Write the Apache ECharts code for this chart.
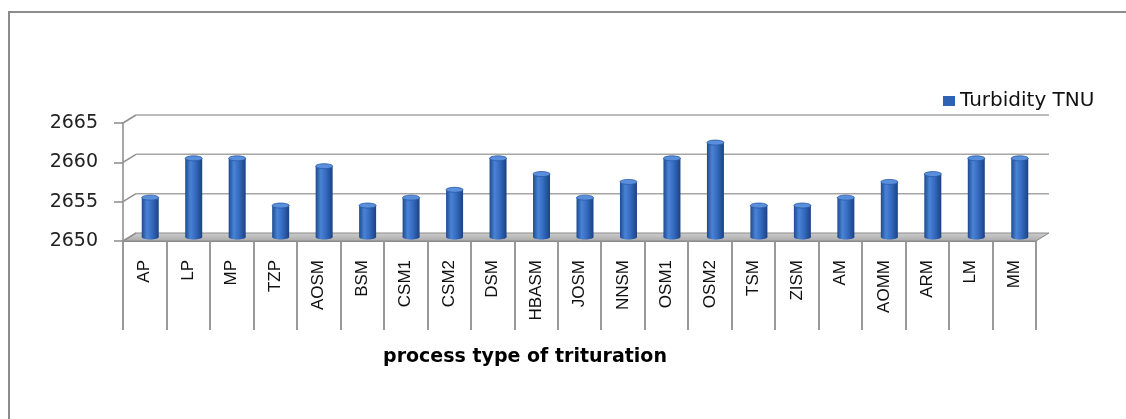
<!DOCTYPE html>
<html>
<head>
<meta charset="utf-8">
<script src="https://cdn.jsdelivr.net/npm/echarts@6/dist/echarts.min.js"></script>
<style>
  html, body { margin: 0; padding: 0; background: #fff; }
  #chart { width: 1126px; height: 419px; }
</style>
</head>
<body>
<div id="chart"></div>
<script>
// ---- data ----
const categories = ['AP','LP','MP','TZP','AOSM','BSM','CSM1','CSM2','DSM','HBASM','JOSM','NNSM','OSM1','OSM2','TSM','ZISM','AM','AOMM','ARM','LM','MM'];
const turbidity = [2655,2660,2660,2654,2659,2654,2655,2656,2660,2658,2655,2657,2660,2662,2654,2654,2655,2657,2658,2660,2660];
const yTicks = [2650, 2655, 2660, 2665];
const seriesName = 'Turbidity TNU';
const xTitle = 'process type of trituration';

// ---- style constants ----
const DX = 13, DY = -8;       // 3D depth offset of back wall
const BAR_W = 17;
const yMin = yTicks[0], yMax = yTicks[yTicks.length - 1];

const chart = echarts.init(document.getElementById('chart'), null, { renderer: 'canvas' });

function frameRender(params, api) {
  const cs = params.coordSys;
  const x0 = cs.x, x1 = cs.x + cs.width;
  const children = [];
  const yb = api.coord([0, yMin])[1];
  children.push({
    type: 'polygon',
    shape: { points: [[x0, yb], [x1, yb], [x1 + DX, yb + DY], [x0 + DX, yb + DY]] },
    style: {
      fill: new echarts.graphic.LinearGradient(0, 0, 0, 1, [
        { offset: 0, color: '#cfcfcf' }, { offset: 1, color: '#a9a9a9' }
      ]),
      stroke: '#8a8a8a', lineWidth: 1
    }
  });
  yTicks.forEach(function (t) {
    const y = api.coord([0, t])[1];
    children.push({
      type: 'line',
      shape: { x1: x0, y1: y, x2: x0 + DX, y2: y + DY },
      style: { stroke: '#8f8f8f', lineWidth: 1.5 }
    });
    if (t > yMin) {
      children.push({
        type: 'line',
        shape: { x1: x0 + DX, y1: y + DY, x2: x1 + DX, y2: y + DY },
        style: { stroke: '#a6a6a6', lineWidth: 1.5 }
      });
    }
  });
  return { type: 'group', children: children };
}

function barRender(params, api) {
  const idx = api.value(0);
  const v = api.value(1);
  const top = api.coord([idx, v]);
  const base = api.coord([idx, yMin]);
  const cx = top[0] + DX / 2 - 1;
  const ty = top[1] + DY / 2;
  const by = base[1] + DY / 2;
  const x = cx - BAR_W / 2;
  const grad = new echarts.graphic.LinearGradient(0, 0, 1, 0, [
    { offset: 0, color: '#1d4a8e' },
    { offset: 0.3, color: '#4a83d6' },
    { offset: 0.6, color: '#356bc0' },
    { offset: 1, color: '#1b4283' }
  ]);
  return {
    type: 'group',
    children: [
      { type: 'ellipse', shape: { cx: cx, cy: by, rx: BAR_W / 2, ry: 2.5 }, style: { fill: grad } },
      { type: 'rect', shape: { x: x, y: ty, width: BAR_W, height: by - ty }, style: { fill: grad } },
      { type: 'ellipse', shape: { cx: cx, cy: ty, rx: BAR_W / 2, ry: 2.5 },
        style: { fill: '#5a8fdb', stroke: '#2a58a3', lineWidth: 0.8 } }
    ]
  };
}

const option = {
  animation: false,
  backgroundColor: '#fff',
  grid: { left: 123, right: 90, top: 123, bottom: 178, containLabel: false },
  legend: {
    data: [{ name: seriesName, icon: 'rect' }],
    left: 938, top: 86,
    itemWidth: 12, itemHeight: 10, itemGap: 6,
    textStyle: { fontFamily: 'DejaVu Sans', fontSize: 20, color: '#111' }
  },
  xAxis: {
    type: 'category',
    data: categories,
    boundaryGap: true,
    axisLine: { show: true, lineStyle: { color: '#8a8a8a', width: 1 } },
    axisTick: { show: true, interval: 0, length: 89, lineStyle: { color: '#999', width: 2 } },
    axisLabel: {
      interval: 0, rotate: 90, margin: 19,
      fontFamily: 'Liberation Sans', fontSize: 17, color: '#111'
    },
    splitLine: { show: false }
  },
  yAxis: {
    type: 'value',
    min: yMin, max: yMax, interval: 5,
    axisLine: { show: true, lineStyle: { color: '#8a8a8a', width: 1.5 } },
    axisTick: { show: true, length: 9, lineStyle: { color: '#8a8a8a', width: 1.5 } },
    axisLabel: { margin: 25, fontFamily: 'DejaVu Sans', fontSize: 19, color: '#222',
                 formatter: function (v) { return String(v); } },
    splitLine: { show: false }
  },
  graphic: [
    { type: 'rect', silent: true, z: -10,
      shape: { x: 9, y: 12, width: 1300, height: 1000 },
      style: { fill: 'none', stroke: '#8c8c8c', lineWidth: 2 } },
    { type: 'text', x: 525, y: 357,
      style: { text: xTitle, fontFamily: 'DejaVu Sans', fontWeight: 'bold', fontSize: 19,
               fill: '#000', align: 'center', verticalAlign: 'middle' } }
  ],
  series: [
    { type: 'custom', name: 'frame', silent: true, z: 1,
      data: [[0, yMin]], renderItem: frameRender, legendHoverLink: false },
    { type: 'custom', name: seriesName, z: 2,
      itemStyle: { color: '#2f62b3' },
      encode: { x: 0, y: 1 },
      data: turbidity.map(function (v, i) { return [i, v]; }),
      renderItem: barRender }
  ]
};
chart.setOption(option);
</script>
</body>
</html>
